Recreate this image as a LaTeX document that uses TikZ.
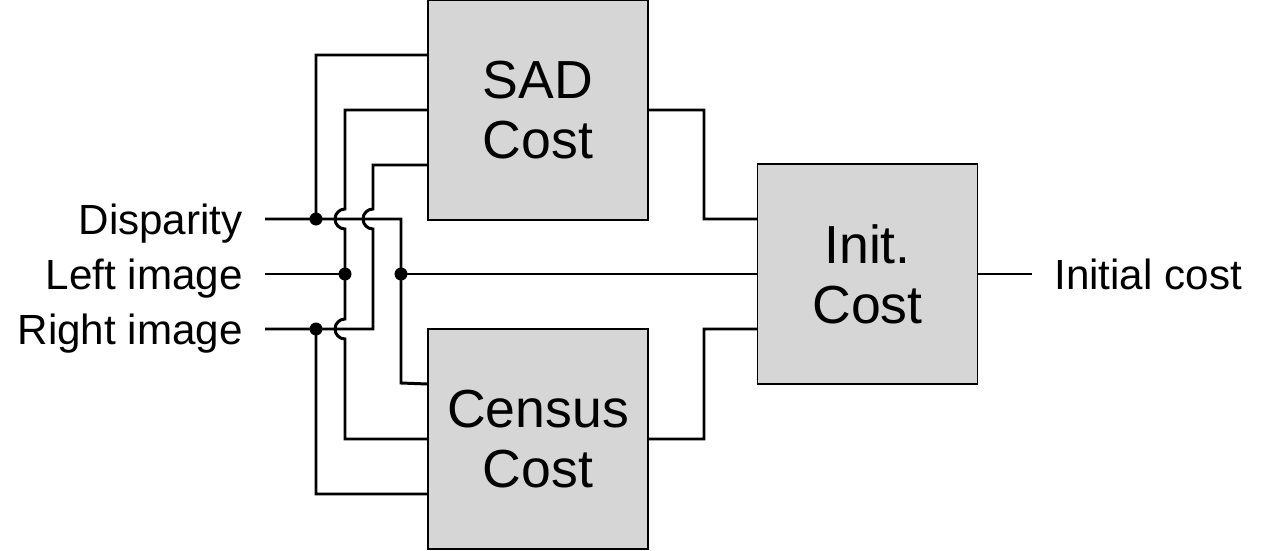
\documentclass[tikz,border=0pt]{standalone}
\usepackage{fontspec}
\setmainfont{Liberation Sans}
\usetikzlibrary{positioning}
\definecolor{boxgray}{RGB}{214,214,214}

\begin{document}
\begin{tikzpicture}[x=0.2mm, y=0.2mm,
    box/.style = {draw, line width=0.6pt, fill=boxgray, minimum width=44mm, minimum height=44mm,
                  align=center, font=\fontsize{30.5}{34}\selectfont},
    lbl/.style = {font=\fontsize{24}{28}\selectfont, inner ysep=0pt, inner xsep=4.4mm,
                  text height=17.2pt, text depth=0pt},
    dot/.style = {circle, fill, inner sep=0pt, minimum size=2.6mm},
    wire/.style = {line width=1.7pt, line join=miter}]
        \useasboundingbox (0,0) rectangle (1264,550);
        % blocks
        \node[box] (sad)    at (538,440)   {SAD\\Cost};
        \node[box] (census) at (538,111)   {Census\\Cost};
        \node[box] (init)   at (867.5,276) {Init.\\Cost};
        % inputs and output
        \node[lbl, anchor=east] (disp)  at (265,331) {Disparity};
        \node[lbl, anchor=east] (left)  at (265,276) {Left image};
        \node[lbl, anchor=east] (right) at (265,221) {Right image};
        \node[lbl, anchor=west] (out)   at (1032,276) {Initial cost};
        % junctions
        \node[dot] (d1) at (316,331) {};
        \node[dot] (d2) at (401,276) {};
        \node[dot] (l1) at (345,276) {};
        \node[dot] (r1) at (316,221) {};
        % disparity
        \draw[wire] (disp.east) -- (401,331) -- (401,167) -- ([yshift=11mm]census.west);
        \draw[wire] (d1.center) -- (316,495) -- ([yshift=11mm]sad.west);
        \draw[wire] (d2.center) -- (init.west);
        % left image
        \draw[wire] (left.east) -- (l1.center);
        \draw[wire] (sad.west) -- (345,440) -- (345,341) arc[start angle=90, end angle=270, radius=10]
            -- (345,231) arc[start angle=90, end angle=270, radius=10] -- (345,111) -- (census.west);
        % right image
        \draw[wire] (right.east) -- (373,221) -- (373,321) arc[start angle=270, end angle=90, radius=10]
            -- (373,385) -- ([yshift=-11mm]sad.west);
        \draw[wire] (r1.center) -- (316,56) -- ([yshift=-11mm]census.west);
        % block outputs
        \draw[wire] (sad.east) -- (704,440) -- (704,331) -- ([yshift=11mm]init.west);
        \draw[wire] (census.east) -- (704,111) -- (704,221) -- ([yshift=-11mm]init.west);
        \draw[wire] (init.east) -- (out.west);
\end{tikzpicture}
\end{document}
